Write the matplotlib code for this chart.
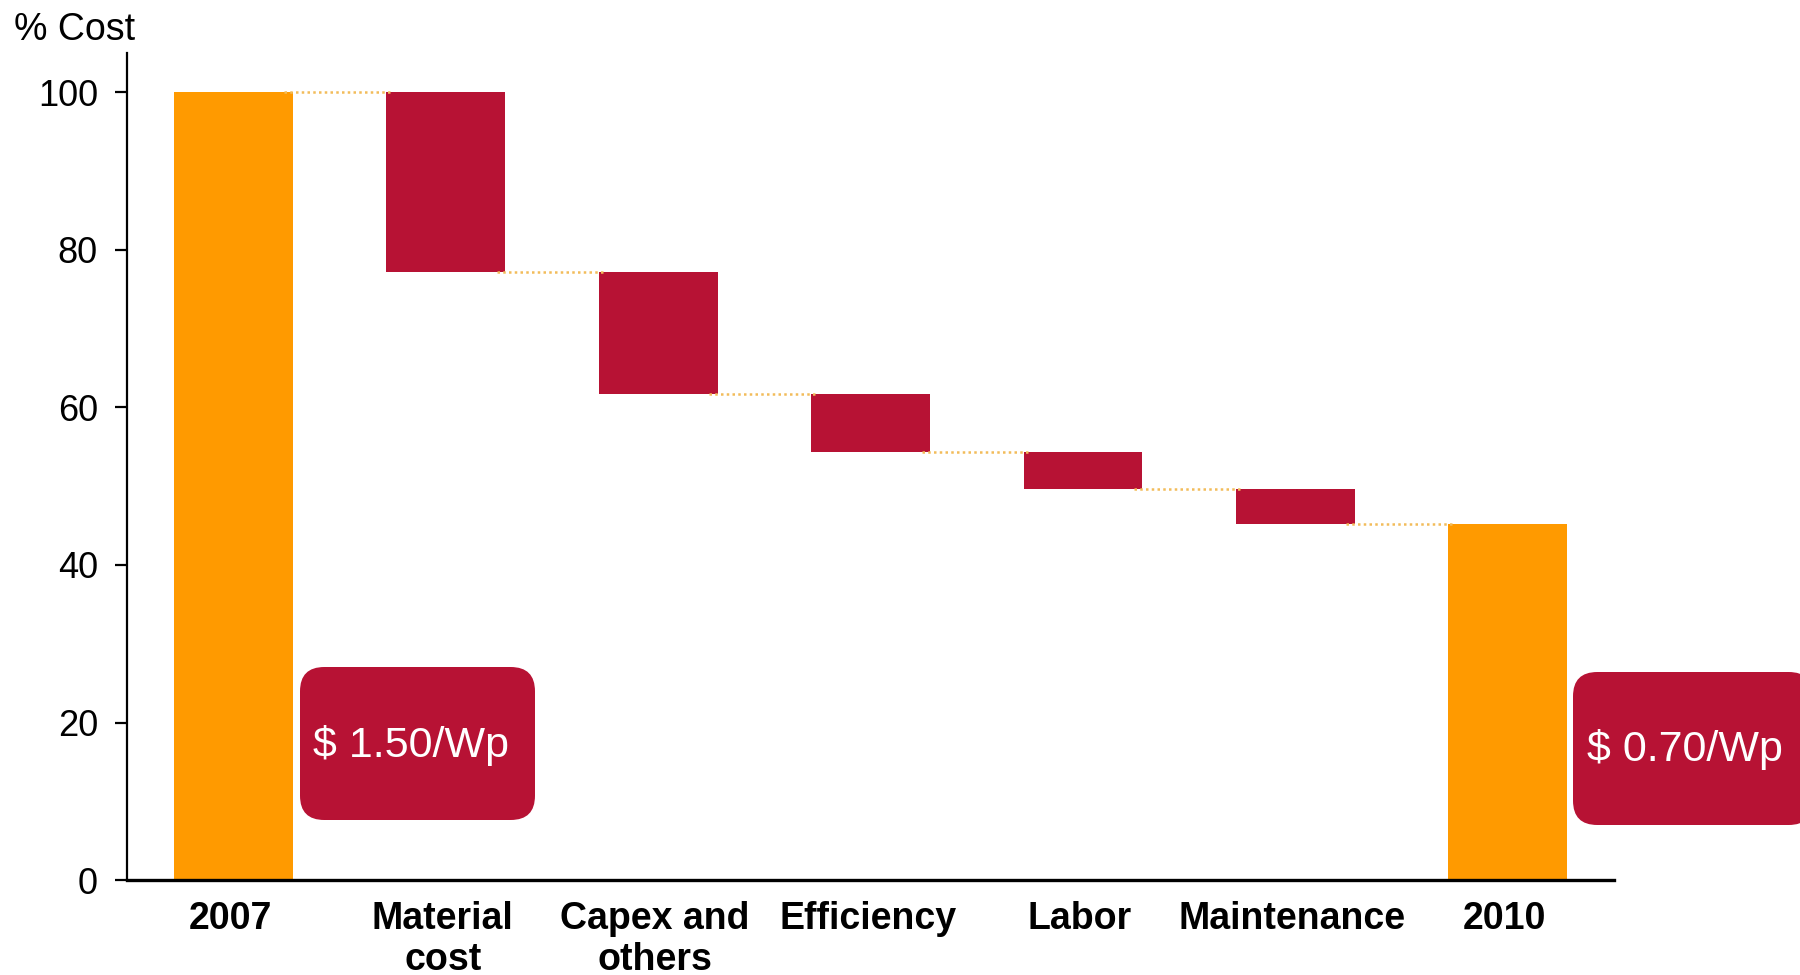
import numpy as np
import matplotlib
matplotlib.use("Agg")
import matplotlib.pyplot as plt
import matplotlib.transforms as mtransforms
from matplotlib.patches import FancyBboxPatch


# -----------------------------
# Data
# -----------------------------
categories = ["2007", "Material\ncost", "Capex and\nothers", "Efficiency",
              "Labor", "Maintenance", "2010"]
start_cost = 100.0
reductions = [22.8, 15.5, 7.4, 4.6, 4.5]
y_ticks = [0, 20, 40, 60, 80, 100]
price_labels = ["$ 1.50/Wp", "$ 0.70/Wp"]


# -----------------------------
# Style
# -----------------------------
ORANGE = "#FF9A00"
CRIMSON = "#B71234"
DOTS = "#F2BC5A"
BAR_WIDTH = 0.56

plt.rcParams["font.family"] = ["Liberation Sans", "DejaVu Sans"]


# -----------------------------
# Waterfall levels
# -----------------------------
levels = [start_cost]
for r in reductions:
    levels.append(levels[-1] - r)
end_cost = levels[-1]

x = np.arange(len(categories))

fig = plt.figure(figsize=(18, 9.75), dpi=100)
ax = fig.add_axes([0.0706, 0.0974, 0.8261, 0.8482])

# totals
ax.bar([x[0], x[-1]], [start_cost, end_cost], width=BAR_WIDTH,
       color=ORANGE, zorder=2)

# reductions as floating bars
for i, r in enumerate(reductions):
    ax.bar(x[i + 1], r, bottom=levels[i + 1], width=BAR_WIDTH,
           color=CRIMSON, zorder=2)

# dotted connectors between steps
for i in range(len(levels)):
    ax.plot([x[i] + BAR_WIDTH / 2 - 0.04, x[i + 1] - BAR_WIDTH / 2 + 0.02],
            [levels[i], levels[i]], color=DOTS, lw=1.8,
            linestyle=(0, (1, 1.3)), zorder=3, solid_capstyle="butt")


# -----------------------------
# Axes
# -----------------------------
ax.set_xlim(-0.5, 6.5)
ax.set_ylim(0, 105)
ax.set_yticks(y_ticks)
ax.set_xticks(x)
ax.set_xticklabels(categories, fontsize=27, fontweight="bold",
                   linespacing=1.2)
ax.tick_params(axis="x", length=0, pad=15)
ax.tick_params(axis="y", labelsize=26, length=9, width=1.6, pad=12)

# nudge category labels slightly left
shift = mtransforms.ScaledTranslation(-3 / 100, 0, fig.dpi_scale_trans)
for lbl in ax.get_xticklabels():
    lbl.set_transform(lbl.get_transform() + shift)

ax.spines["top"].set_visible(False)
ax.spines["right"].set_visible(False)
ax.spines["left"].set_linewidth(1.6)
ax.spines["bottom"].set_linewidth(2.4)

fig.text(14 / 1800, 1 - 40 / 975, "% Cost", fontsize=27, va="baseline")


# -----------------------------
# Price badges
# -----------------------------
aspect = 1800 / 975
badges = [
    (300, 667, 235, 153),
    (1573, 672, 240, 153),
]
for (px, py, pw, ph), label in zip(badges, price_labels):
    x0 = px / 1800
    y0 = 1 - (py + ph) / 975
    w = pw / 1800
    h = ph / 975
    box = FancyBboxPatch((x0, y0), w, h,
                         boxstyle="round,pad=0,rounding_size=0.0135",
                         mutation_aspect=aspect,
                         transform=fig.transFigure, facecolor=CRIMSON,
                         edgecolor="none", zorder=5)
    fig.patches.append(box)

fig.text(411 / 1800, 1 - 745 / 975, price_labels[0], color="white",
         fontsize=31, ha="center", va="center", zorder=6)
fig.text(1685 / 1800, 1 - 750 / 975, price_labels[1], color="white",
         fontsize=31, ha="center", va="center", zorder=6)

fig.savefig("out.png", dpi=100, facecolor="white")
